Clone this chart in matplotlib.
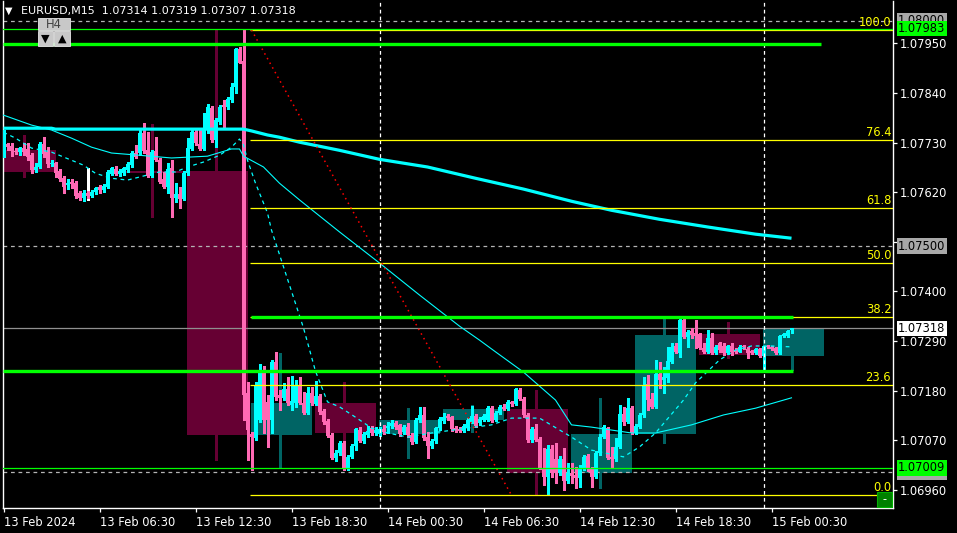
import numpy as np
import matplotlib
matplotlib.use("Agg")
import matplotlib.pyplot as plt
import matplotlib.transforms as mtransforms
from matplotlib.patches import Rectangle
from matplotlib.ticker import FormatStrFormatter

W, H = 957, 533

# M15 candles, bar 0 = 13 Feb 2024 00:30 (server time)
opens = [
    1.07702, 1.07727, 1.07722, 1.07711, 1.07709, 1.07718, 1.07716, 1.07702, 1.07669, 1.07676,
    1.07727, 1.07709, 1.07682, 1.07685, 1.07667, 1.07651, 1.07636, 1.07642, 1.07640, 1.07618,
    1.07607, 1.07618, 1.07611, 1.07620, 1.07631, 1.07625, 1.07631, 1.07660, 1.07671, 1.07660,
    1.07662, 1.07669, 1.07680, 1.07707, 1.07707, 1.07751, 1.07713, 1.07656, 1.07711, 1.07691,
    1.07649, 1.07631, 1.07673, 1.07607, 1.07616, 1.07605, 1.07662, 1.07716, 1.07753, 1.07727,
    1.07716, 1.07758, 1.07806, 1.07736, 1.07775, 1.07813, 1.07809, 1.07824, 1.07853, 1.07937,
    1.07911, 1.07175, 1.07084, 1.07075, 1.07115, 1.07219, 1.07155, 1.07115, 1.07243, 1.07170,
    1.07164, 1.07183, 1.07148, 1.07152, 1.07190, 1.07152, 1.07130, 1.07175, 1.07150, 1.07168,
    1.07135, 1.07113, 1.07082, 1.07030, 1.07042, 1.07064, 1.07008, 1.07033, 1.07057, 1.07093,
    1.07068, 1.07082, 1.07097, 1.07086, 1.07084, 1.07095, 1.07097, 1.07101, 1.07108, 1.07104,
    1.07088, 1.07099, 1.07082, 1.07066, 1.07115, 1.07126, 1.07077, 1.07057, 1.07068, 1.07097,
    1.07113, 1.07124, 1.07121, 1.07097, 1.07095, 1.07090, 1.07097, 1.07110, 1.07124, 1.07108,
    1.07115, 1.07115, 1.07141, 1.07115, 1.07130, 1.07144, 1.07139, 1.07155, 1.07150, 1.07181,
    1.07161, 1.07126, 1.07070, 1.07095, 1.07073, 1.07008, 1.06988, 1.07050, 1.07028, 1.06997,
    1.07028, 1.06979, 1.06997, 1.06993, 1.06986, 1.07006, 1.07035, 1.07006, 1.06988, 1.07042,
    1.07077, 1.07097, 1.07033, 1.07028, 1.07055, 1.07128, 1.07110, 1.07141, 1.07086, 1.07099,
    1.07126, 1.07195, 1.07161, 1.07144, 1.07217, 1.07203, 1.07208, 1.07243, 1.07279, 1.07263,
    1.07336, 1.07299, 1.07312, 1.07308, 1.07305, 1.07274, 1.07266, 1.07297, 1.07263, 1.07285,
    1.07279, 1.07263, 1.07279, 1.07270, 1.07266, 1.07279, 1.07272, 1.07268, 1.07263, 1.07272,
    1.07257, 1.07279, 1.07277, 1.07274, 1.07263, 1.07301, 1.07301, 1.07314,
]
highs = [
    1.07758, 1.07729, 1.07729, 1.07718, 1.07720, 1.07729, 1.07729, 1.07707, 1.07685, 1.07731,
    1.07742, 1.07720, 1.07691, 1.07687, 1.07671, 1.07656, 1.07649, 1.07649, 1.07645, 1.07622,
    1.07625, 1.07622, 1.07625, 1.07631, 1.07636, 1.07638, 1.07669, 1.07676, 1.07678, 1.07671,
    1.07676, 1.07687, 1.07711, 1.07725, 1.07758, 1.07773, 1.07753, 1.07713, 1.07742, 1.07696,
    1.07665, 1.07685, 1.07691, 1.07640, 1.07631, 1.07667, 1.07740, 1.07758, 1.07758, 1.07758,
    1.07795, 1.07815, 1.07811, 1.07784, 1.07813, 1.07824, 1.07831, 1.07862, 1.07940, 1.07942,
    1.07980, 1.07199, 1.07088, 1.07199, 1.07239, 1.07234, 1.07170, 1.07248, 1.07266, 1.07181,
    1.07197, 1.07210, 1.07212, 1.07203, 1.07210, 1.07177, 1.07188, 1.07188, 1.07201, 1.07172,
    1.07139, 1.07117, 1.07086, 1.07048, 1.07068, 1.07068, 1.07037, 1.07062, 1.07097, 1.07099,
    1.07088, 1.07101, 1.07101, 1.07099, 1.07099, 1.07104, 1.07110, 1.07115, 1.07113, 1.07106,
    1.07104, 1.07108, 1.07086, 1.07119, 1.07144, 1.07144, 1.07088, 1.07073, 1.07099, 1.07121,
    1.07130, 1.07128, 1.07124, 1.07101, 1.07099, 1.07106, 1.07119, 1.07146, 1.07128, 1.07121,
    1.07128, 1.07146, 1.07146, 1.07135, 1.07148, 1.07150, 1.07159, 1.07157, 1.07186, 1.07186,
    1.07166, 1.07130, 1.07099, 1.07106, 1.07077, 1.07053, 1.07059, 1.07059, 1.07064, 1.07035,
    1.07053, 1.07019, 1.07019, 1.07011, 1.07015, 1.07037, 1.07039, 1.07011, 1.07046, 1.07084,
    1.07104, 1.07099, 1.07055, 1.07075, 1.07148, 1.07144, 1.07164, 1.07146, 1.07106, 1.07130,
    1.07210, 1.07215, 1.07175, 1.07248, 1.07243, 1.07232, 1.07277, 1.07285, 1.07285, 1.07341,
    1.07339, 1.07314, 1.07319, 1.07336, 1.07308, 1.07285, 1.07314, 1.07308, 1.07281, 1.07288,
    1.07285, 1.07281, 1.07285, 1.07274, 1.07281, 1.07281, 1.07277, 1.07270, 1.07274, 1.07274,
    1.07279, 1.07281, 1.07279, 1.07277, 1.07303, 1.07308, 1.07314, 1.07319,
]
lows = [
    1.07698, 1.07713, 1.07700, 1.07705, 1.07702, 1.07702, 1.07691, 1.07662, 1.07665, 1.07673,
    1.07698, 1.07676, 1.07678, 1.07654, 1.07645, 1.07618, 1.07627, 1.07629, 1.07607, 1.07603,
    1.07600, 1.07607, 1.07609, 1.07616, 1.07618, 1.07620, 1.07629, 1.07658, 1.07658, 1.07656,
    1.07658, 1.07665, 1.07676, 1.07696, 1.07702, 1.07707, 1.07654, 1.07654, 1.07689, 1.07640,
    1.07629, 1.07618, 1.07565, 1.07598, 1.07585, 1.07603, 1.07658, 1.07713, 1.07725, 1.07713,
    1.07713, 1.07751, 1.07731, 1.07720, 1.07771, 1.07762, 1.07804, 1.07820, 1.07840, 1.07906,
    1.07115, 1.07026, 1.07004, 1.07070, 1.07110, 1.07086, 1.07055, 1.07086, 1.07159, 1.07137,
    1.07159, 1.07148, 1.07137, 1.07144, 1.07150, 1.07128, 1.07128, 1.07148, 1.07148, 1.07128,
    1.07106, 1.07077, 1.07028, 1.07024, 1.07037, 1.07004, 1.07004, 1.07030, 1.07048, 1.07066,
    1.07064, 1.07077, 1.07082, 1.07082, 1.07079, 1.07084, 1.07086, 1.07097, 1.07095, 1.07079,
    1.07084, 1.07077, 1.07062, 1.07064, 1.07110, 1.07070, 1.07030, 1.07053, 1.07064, 1.07093,
    1.07108, 1.07115, 1.07090, 1.07088, 1.07088, 1.07088, 1.07093, 1.07108, 1.07099, 1.07104,
    1.07113, 1.07113, 1.07110, 1.07113, 1.07128, 1.07137, 1.07137, 1.07146, 1.07148, 1.07159,
    1.07121, 1.07066, 1.07066, 1.07068, 1.07006, 1.06971, 1.06948, 1.06988, 1.06975, 1.06993,
    1.06960, 1.06975, 1.06975, 1.06964, 1.06966, 1.07004, 1.07002, 1.06966, 1.06986, 1.07037,
    1.07075, 1.07028, 1.07008, 1.07024, 1.07053, 1.07104, 1.07108, 1.07084, 1.07084, 1.07097,
    1.07121, 1.07137, 1.07141, 1.07141, 1.07186, 1.07175, 1.07199, 1.07241, 1.07263, 1.07254,
    1.07297, 1.07277, 1.07297, 1.07274, 1.07272, 1.07263, 1.07263, 1.07261, 1.07261, 1.07266,
    1.07259, 1.07261, 1.07259, 1.07263, 1.07266, 1.07272, 1.07252, 1.07261, 1.07261, 1.07254,
    1.07226, 1.07274, 1.07270, 1.07261, 1.07261, 1.07299, 1.07299, 1.07307,
]
closes = [
    1.07751, 1.07720, 1.07711, 1.07709, 1.07718, 1.07709, 1.07698, 1.07669, 1.07676, 1.07727,
    1.07705, 1.07682, 1.07685, 1.07662, 1.07649, 1.07631, 1.07640, 1.07638, 1.07611, 1.07607,
    1.07618, 1.07611, 1.07620, 1.07629, 1.07625, 1.07634, 1.07665, 1.07673, 1.07660, 1.07667,
    1.07673, 1.07682, 1.07707, 1.07698, 1.07751, 1.07711, 1.07656, 1.07709, 1.07691, 1.07642,
    1.07631, 1.07671, 1.07607, 1.07616, 1.07605, 1.07662, 1.07718, 1.07753, 1.07729, 1.07716,
    1.07758, 1.07809, 1.07736, 1.07780, 1.07809, 1.07809, 1.07826, 1.07853, 1.07937, 1.07906,
    1.07170, 1.07093, 1.07077, 1.07192, 1.07226, 1.07115, 1.07115, 1.07243, 1.07166, 1.07164,
    1.07183, 1.07152, 1.07157, 1.07190, 1.07152, 1.07130, 1.07175, 1.07152, 1.07168, 1.07132,
    1.07110, 1.07079, 1.07030, 1.07042, 1.07064, 1.07008, 1.07033, 1.07057, 1.07095, 1.07068,
    1.07084, 1.07090, 1.07086, 1.07093, 1.07095, 1.07088, 1.07101, 1.07108, 1.07099, 1.07084,
    1.07099, 1.07082, 1.07066, 1.07115, 1.07126, 1.07075, 1.07057, 1.07068, 1.07097, 1.07117,
    1.07121, 1.07119, 1.07095, 1.07093, 1.07090, 1.07101, 1.07115, 1.07124, 1.07101, 1.07117,
    1.07124, 1.07141, 1.07113, 1.07130, 1.07144, 1.07139, 1.07155, 1.07150, 1.07183, 1.07161,
    1.07126, 1.07070, 1.07095, 1.07070, 1.07008, 1.06988, 1.07050, 1.06997, 1.06997, 1.07028,
    1.06979, 1.06997, 1.06991, 1.06986, 1.07006, 1.07033, 1.07006, 1.06988, 1.07042, 1.07077,
    1.07099, 1.07030, 1.07028, 1.07055, 1.07128, 1.07110, 1.07141, 1.07086, 1.07101, 1.07126,
    1.07192, 1.07159, 1.07144, 1.07217, 1.07203, 1.07210, 1.07246, 1.07277, 1.07266, 1.07336,
    1.07299, 1.07310, 1.07303, 1.07301, 1.07274, 1.07266, 1.07297, 1.07263, 1.07277, 1.07270,
    1.07263, 1.07279, 1.07266, 1.07266, 1.07277, 1.07277, 1.07263, 1.07263, 1.07272, 1.07257,
    1.07279, 1.07277, 1.07272, 1.07263, 1.07301, 1.07305, 1.07312, 1.07318,
]

# H4 candles (first M15 bar of each), drawn as boxes
h4_start = [-2, 14, 30, 46, 62, 78, 94, 110, 126, 142, 158, 174, 190]
h4_open = [1.07713, 1.07665, 1.07667, 1.07667, 1.07082, 1.07152, 1.07084,
           1.07115, 1.07139, 1.06997, 1.07084, 1.07305, 1.07257]
h4_close = [1.07665, 1.07665, 1.07662, 1.07082, 1.07152, 1.07086, 1.07115,
            1.07139, 1.06997, 1.07084, 1.07303, 1.07259, 1.07318]
h4_high = [1.07747, 1.07673, 1.07771, 1.07980, 1.07263, 1.07199, 1.07141,
           1.07148, 1.07181, 1.07164, 1.07341, 1.07332, 1.07319]
h4_low = [1.07654, 1.07603, 1.07565, 1.07026, 1.07008, 1.07004, 1.07030,
          1.07088, 1.06948, 1.06964, 1.07064, 1.07252, 1.07226]

# moving averages (read at some bars)
ma_slow_bar = [0, 12, 13, 60, 62, 66, 69, 74, 84, 94, 106, 118, 130, 142, 152, 164, 176, 188, 197]
ma_slow = [1.07762, 1.07762, 1.07760, 1.07760, 1.07756, 1.07747, 1.07742, 1.07731, 1.07713,
           1.07693, 1.07676, 1.07651, 1.07627, 1.07600, 1.07580, 1.07560, 1.07543, 1.07527, 1.07518]
ma_mid_bar = [0, 7, 12, 17, 22, 27, 34, 42, 51, 57, 59, 60, 65, 69, 74, 84, 94, 104, 114, 119,
              123, 130, 138, 142, 147, 157, 163, 172, 180, 188, 197]
ma_mid = [1.07791, 1.07769, 1.07758, 1.07740, 1.07720, 1.07707, 1.07702, 1.07696, 1.07700, 1.07716,
          1.07716, 1.07700, 1.07676, 1.07640, 1.07603, 1.07532, 1.07463, 1.07392, 1.07323, 1.07292,
          1.07266, 1.07221, 1.07159, 1.07104, 1.07099, 1.07086, 1.07086, 1.07104, 1.07126, 1.07141,
          1.07164]
ma_fast_bar = [0, 3, 7, 12, 17, 20, 23, 27, 31, 35, 39, 43, 46, 50, 54, 57, 59, 60, 61, 63,
               66, 67, 75, 78, 81, 84, 88, 92, 95, 101, 107, 122, 127, 134, 142, 147, 155, 159,
               163, 170, 173, 179, 183, 187, 192, 197]
ma_fast = [1.07753, 1.07740, 1.07718, 1.07709, 1.07691, 1.07680, 1.07662, 1.07651, 1.07647, 1.07656,
           1.07665, 1.07665, 1.07676, 1.07687, 1.07702, 1.07720, 1.07738, 1.07725, 1.07691, 1.07640,
           1.07574, 1.07536, 1.07319, 1.07223, 1.07155, 1.07144, 1.07121, 1.07097, 1.07088, 1.07077,
           1.07086, 1.07104, 1.07119, 1.07119, 1.07077, 1.07048, 1.07033, 1.07055, 1.07086, 1.07159,
           1.07197, 1.07248, 1.07270, 1.07279, 1.07279, 1.07277]

# fibonacci retracement
fib_bar = [62, 127]
fib_price = [1.07980, 1.06948]
fib_levels = [0.0, 23.6, 38.2, 50.0, 61.8, 76.4, 100.0]

# horizontal lines
green_thin = [1.07983, 1.07009]
green_thick = [1.07948, 1.07343, 1.07223]
green_thick_from = [0, 62, 0]
green_thick_to = [204, 197, 197]
round_levels = [1.08000, 1.07500, 1.07000]
bid = 1.07318
day_sep = [94, 190]

price_ticks = [1.06960, 1.07070, 1.07180, 1.07290, 1.07400, 1.07510,
               1.07620, 1.07730, 1.07840, 1.07950]
time_ticks = [0, 24, 48, 72, 96, 120, 144, 168, 192]
time_labels = ['13 Feb 2024', '13 Feb 06:30', '13 Feb 12:30', '13 Feb 18:30',
               '14 Feb 00:30', '14 Feb 06:30', '14 Feb 12:30', '14 Feb 18:30',
               '15 Feb 00:30']

CYAN = '#00FFFF'
PINK = '#FF69B4'
TEAL = '#006464'
MAROON = '#660033'
FS = 8.3

fig = plt.figure(figsize=(W / 100, H / 100), dpi=100, facecolor='black')
ax = fig.add_axes([3 / W, 25 / H, 890 / W, 507 / H])
ax.set_facecolor('black')
ax.set_xlim(-0.125, 222.375)
ax.set_ylim(1.069196, 1.080442)
px = (1.080442 - 1.069196) / 507  # one pixel in price

o = np.array(opens); hi = np.array(highs); lo = np.array(lows); c = np.array(closes)
x = np.arange(len(o))

# H4 boxes
for s, ho, hc, hh, hl in zip(h4_start, h4_open, h4_close, h4_high, h4_low):
    if abs(hc - ho) < 1e-7:
        ax.vlines(s + 7, hl, hh, color='white', lw=0.9, zorder=1.2, antialiased=False)
        continue
    col = TEAL if hc > ho else MAROON
    ax.vlines(s + 7, hl, hh, color=col, lw=0.9, zorder=1.1, antialiased=False)
    ax.add_patch(Rectangle((s - 0.25, min(ho, hc)), 15.25, abs(hc - ho),
                           fc=col, ec='none', zorder=1.15, antialiased=False))

# M15 candles
up = c >= o
cols = np.where(up, CYAN, PINK)
ax.vlines(x, lo, hi, colors=cols, lw=0.9, zorder=3, antialiased=False)
body = np.maximum(np.abs(c - o), px)
ax.bar(x, body, bottom=np.minimum(o, c), width=0.75, color=cols, lw=0, zorder=3,
       antialiased=False)

# moving averages
ax.plot(ma_slow_bar, ma_slow, color=CYAN, lw=2.3, zorder=4, solid_capstyle='butt')
ax.plot(ma_mid_bar, ma_mid, color=CYAN, lw=0.8, zorder=4)
ax.plot(ma_fast_bar, ma_fast, color=CYAN, lw=0.9, ls=(0, (3, 3)), zorder=4)

xr = ax.get_xlim()[1]
yax = mtransforms.blended_transform_factory(ax.transAxes, ax.transData)

# round levels, bid, day separators
for lv in round_levels:
    ax.axhline(lv, color='#B4B4B4', lw=0.9, ls=(0, (3, 3)), zorder=2)
ax.axhline(bid, color='#909090', lw=0.9, zorder=2)
for d in day_sep:
    ax.axvline(d, color='white', lw=0.9, ls=(0, (3, 2.5)), zorder=5)

# fibonacci
rng = fib_price[0] - fib_price[1]
for lv in fib_levels:
    p = fib_price[1] + rng * lv / 100
    ax.hlines(p, fib_bar[0] - 0.5, xr, color='#FFFF00', lw=0.9, zorder=5)
    ax.text(0.998, p + px, f'{lv:.1f}', transform=yax, ha='right', va='bottom',
            color='#FFFF00', fontsize=FS, zorder=6)
ax.plot(fib_bar, fib_price, color='red', lw=1.1, ls=(0, (1, 2.5)), zorder=5)

# green levels
for g in green_thin:
    ax.axhline(g, color='#00FF00', lw=0.9, zorder=5)
for g, a, b in zip(green_thick, green_thick_from, green_thick_to):
    ax.hlines(g, a - 0.2, b + 0.4, color='#00FF00', lw=2.4, zorder=5.1)

# axes styling
ax.spines['top'].set_visible(False)
for side in ['left', 'right', 'bottom']:
    ax.spines[side].set_color('white')
    ax.spines[side].set_linewidth(1)
ax.yaxis.tick_right()
ax.set_yticks(price_ticks)
ax.yaxis.set_major_formatter(FormatStrFormatter('%.5f'))
ax.tick_params(axis='y', colors='white', length=3, width=0.9, pad=2, labelsize=FS)
ax.set_xticks(time_ticks)
ax.set_xticklabels(time_labels, ha='left')
ax.tick_params(axis='x', colors='white', length=3, width=0.9, pad=3, labelsize=FS)


def price_label(p, txt, fc, tc='black'):
    ax.text(1 + 5 / 890, p, txt, transform=yax, ha='left', va='center', fontsize=FS,
            color=tc, clip_on=False, zorder=10,
            bbox=dict(boxstyle='square,pad=0.12', fc=fc, ec='none'))


for lv in round_levels:
    price_label(lv, f'{lv:.5f}', '#A8A8A8')
price_label(1.07983, '1.07983', '#00FF00')
price_label(1.07009, '1.07009', '#00FF00')
price_label(bid, '1.07318', 'white')


def px_rect(x0, y0, x1, y1, **kw):
    fig.add_artist(Rectangle((x0 / W, 1 - y1 / H), (x1 - x0) / W, (y1 - y0) / H,
                             transform=fig.transFigure, **kw))


# header
fig.text(5 / W, 1 - 11 / H, '▼', color='white', fontsize=7, va='center')
fig.text(21 / W, 1 - 11 / H, 'EURUSD,M15  1.07314 1.07319 1.07307 1.07318',
         color='white', fontsize=8.0, va='center')

# H4 switch buttons
px_rect(38, 18, 70, 30, fc='#C8C8C8', ec='#E8E8E8', lw=0.6)
fig.text(54 / W, 1 - 24 / H, 'H4', color='#404040', fontsize=FS, ha='center', va='center')
px_rect(38, 31, 53, 46, fc='#C8C8C8', ec='#E8E8E8', lw=0.6)
px_rect(54, 31, 70, 46, fc='#C8C8C8', ec='#E8E8E8', lw=0.6)
fig.text(45.5 / W, 1 - 39 / H, '▼', color='black', fontsize=8, ha='center', va='center')
fig.text(62 / W, 1 - 39 / H, '▲', color='black', fontsize=8, ha='center', va='center')

# small green box at the bottom right
px_rect(877, 492, 892, 507, fc='#008000', ec='#00B000', lw=0.8)
fig.text(884.5 / W, 1 - 500 / H, '-', color='white', fontsize=FS, ha='center', va='center')

fig.savefig('out.png', dpi=100, facecolor='black')
